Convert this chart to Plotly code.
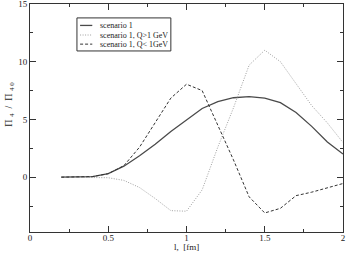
import plotly.graph_objects as go

x_vals = [0.2, 0.3, 0.4, 0.5, 0.6, 0.7, 0.8, 0.9, 1.0, 1.1, 1.2, 1.3, 1.4, 1.5, 1.6, 1.7, 1.8, 1.9, 2.0]
scenario1 = [0.0, 0.0, 0.05, 0.3, 0.95, 1.85, 2.85, 3.95, 4.95, 5.95, 6.55, 6.88, 6.98, 6.85, 6.45, 5.6, 4.4, 3.05, 2.0]
q_gt_1 = [0.0, 0.0, -0.02, -0.05, -0.28, -0.9, -1.85, -2.9, -2.95, -1.1, 2.6, 6.0, 9.7, 11.0, 10.0, 8.1, 6.2, 4.7, 3.0]
q_lt_1 = [0.0, 0.0, 0.05, 0.3, 1.0, 2.6, 4.7, 6.85, 8.05, 7.5, 4.5, 1.5, -1.7, -3.1, -2.7, -1.6, -1.3, -0.95, -0.55]
series_names = ["scenario 1", "scenario 1, Q>1 GeV", "scenario 1, Q< 1GeV"]
x_ticks = [0, 0.5, 1, 1.5, 2]
x_ticklabels = ["0", "0.5", "1", "1.5", "2"]
y_ticks = [0, 5, 10, 15]
x_range = [0, 2]
y_range = [-4.75, 15]
x_title = "l,  [fm]"
y_title = "Π <sub>4</sub>  /  Π <sub>4 0</sub>"

styles = [
    dict(color="#4a4a4a", width=1.3, dash="solid"),
    dict(color="#a0a0a0", width=1.0, dash="1px,1.5px"),
    dict(color="#333333", width=1.0, dash="3px,2px"),
]
series = [scenario1, q_gt_1, q_lt_1]

fig = go.Figure()
for name, ys, st in zip(series_names, series, styles):
    fig.add_trace(go.Scatter(x=x_vals, y=ys, mode="lines", name=name,
                             line=st, showlegend=False))
# invisible companion trace so the mirrored (top/right) tick axes are drawn
fig.add_trace(go.Scatter(x=x_vals, y=scenario1, xaxis="x2", yaxis="y2", mode="lines",
                         line=dict(width=0, color="rgba(0,0,0,0)"), opacity=0,
                         hoverinfo="skip", showlegend=False))

family = "Liberation Serif, Times New Roman, serif"
font = dict(family=family, size=9, color="#222222")

axis_common = dict(showline=True, linecolor="#333", linewidth=1,
                   ticks="inside", ticklen=6, tickcolor="#333", tickwidth=1,
                   showgrid=False, zeroline=False, tickfont=font, automargin=False,
                   ticklabeloverflow="allow")

fig.update_layout(
    xaxis=dict(range=x_range, tickvals=x_ticks, ticktext=x_ticklabels, ticklabelstandoff=-3,
               minor=dict(ticks="inside", ticklen=3, dtick=0.25, tickcolor="#333"),
               **axis_common),
    yaxis=dict(range=y_range, tickvals=y_ticks,
               minor=dict(ticks="inside", ticklen=3, dtick=2.5, tickcolor="#333"),
               **axis_common),
    xaxis2=dict(overlaying="x", side="top", anchor="y2", range=x_range, tickvals=x_ticks,
                showticklabels=False,
                minor=dict(ticks="inside", ticklen=3, dtick=0.25, tickcolor="#333"),
                **axis_common),
    yaxis2=dict(overlaying="y", side="right", anchor="x2", range=y_range, tickvals=y_ticks,
                showticklabels=False,
                minor=dict(ticks="inside", ticklen=3, dtick=2.5, tickcolor="#333"),
                **axis_common),
)

shapes = [dict(type="rect", xref="paper", yref="paper", x0=0.150, x1=0.450, y0=0.794, y1=0.939,
               line=dict(color="#333", width=1), fillcolor="white")]
annotations = [
    dict(text=x_title, xref="paper", yref="paper", x=0.5, y=-0.0925, xanchor="center",
         yanchor="bottom", showarrow=False, borderpad=0, font=font),
    dict(text=y_title, xref="paper", yref="paper", x=-0.066, y=0.56, xanchor="center",
         yanchor="middle", showarrow=False, textangle=-90, font=dict(family=family, size=10, color="#222")),
]
legend_y = [0.906, 0.864, 0.824]
for name, st, ly in zip(series_names, styles, legend_y):
    shapes.append(dict(type="line", xref="paper", yref="paper", x0=0.160, x1=0.199, y0=ly, y1=ly,
                       line=dict(color=st["color"], width=st["width"], dash=st["dash"])))
    annotations.append(dict(text=name, xref="paper", yref="paper", x=0.218, y=ly,
                            xanchor="left", yanchor="middle", showarrow=False,
                            font=dict(family=family, size=8, color="#222")))

fig.update_layout(width=346, height=253, margin=dict(l=30, r=3, t=4, b=21),
                  paper_bgcolor="white", plot_bgcolor="white", font=font,
                  shapes=shapes, annotations=annotations)

fig.write_html("out.html", config={"displayModeBar": False},
               post_script="document.body.style.margin='0';")
